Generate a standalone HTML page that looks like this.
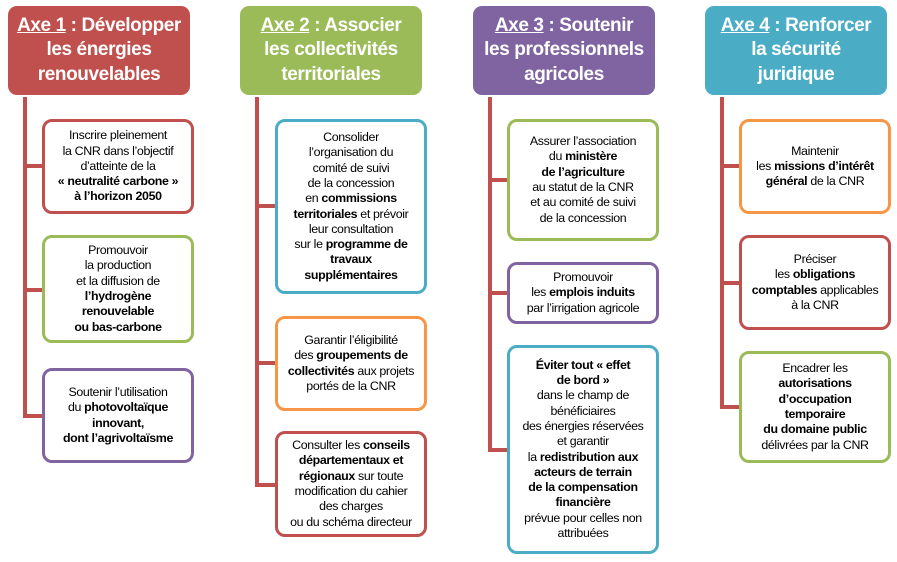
<!DOCTYPE html>
<html><head><meta charset="utf-8"><style>
body{margin:0;width:897px;height:562px;background:#fff;position:relative;overflow:hidden;font-family:"Liberation Sans",sans-serif}
.h{position:absolute;top:6px;width:182px;height:89px;border-radius:9px;color:#fff;font-weight:bold;font-size:19px;line-height:24.5px;text-align:center;display:flex;align-items:center;justify-content:center;letter-spacing:-0.4px}
.h u{text-decoration:underline}
.b{position:absolute;width:146px;border:3px solid;border-radius:10px;background:#fff;font-size:12.4px;line-height:15.3px;color:#000;text-align:center;display:flex;align-items:center;justify-content:center;letter-spacing:-0.35px;white-space:nowrap}
.v{position:absolute;width:4px;background:#c0504d}
.c{position:absolute;height:4px;background:#c0504d}
.R{border-color:#c0504d}.G{border-color:#9bbb59}.P{border-color:#8064a2}.T{border-color:#4bacc6}.O{border-color:#f79646}
</style></head><body>
<div class="h" style="left:8px;background:#c0504d"><div><u>Axe 1</u> : Développer<br>les énergies<br>renouvelables</div></div>
<div class="h" style="left:240px;background:#9bbb59"><div><u>Axe 2</u> : Associer<br>les collectivités<br>territoriales</div></div>
<div class="h" style="left:473px;background:#8064a2"><div><u>Axe 3</u> : Soutenir<br>les professionnels<br>agricoles</div></div>
<div class="h" style="left:705px;background:#4bacc6"><div><u>Axe 4</u> : Renforcer<br>la sécurité<br>juridique</div></div>

<div class="v" style="left:23px;top:97px;height:321px"></div>
<div class="c" style="left:23px;top:164px;width:22px"></div>
<div class="c" style="left:23px;top:288px;width:22px"></div>
<div class="c" style="left:23px;top:414px;width:22px"></div>

<div class="v" style="left:255px;top:97px;height:390px"></div>
<div class="c" style="left:255px;top:204px;width:22px"></div>
<div class="c" style="left:255px;top:361px;width:22px"></div>
<div class="c" style="left:255px;top:483px;width:22px"></div>

<div class="v" style="left:488px;top:97px;height:355px"></div>
<div class="c" style="left:488px;top:178px;width:22px"></div>
<div class="c" style="left:488px;top:291px;width:22px"></div>
<div class="c" style="left:488px;top:448px;width:22px"></div>

<div class="v" style="left:720px;top:97px;height:312px"></div>
<div class="c" style="left:720px;top:164px;width:22px"></div>
<div class="c" style="left:720px;top:281px;width:22px"></div>
<div class="c" style="left:720px;top:405px;width:22px"></div>

<div class="b R" style="left:42px;top:119px;height:89px"><div>Inscrire pleinement<br>la CNR dans l’objectif<br>d’atteinte de la<br><b>« neutralité carbone »<br>à l’horizon 2050</b></div></div>
<div class="b G" style="left:42px;top:235px;height:102px"><div>Promouvoir<br>la production<br>et la diffusion de<br><b>l’hydrogène<br>renouvelable<br>ou bas-carbone</b></div></div>
<div class="b P" style="left:42px;top:368px;height:89px"><div>Soutenir l’utilisation<br>du <b>photovoltaïque<br>innovant,<br>dont l’agrivoltaïsme</b></div></div>

<div class="b T" style="left:275px;top:119px;height:169px"><div>Consolider<br>l’organisation du<br>comité de suivi<br>de la concession<br>en <b>commissions<br>territoriales</b> et prévoir<br>leur consultation<br>sur le <b>programme de<br>travaux<br>supplémentaires</b></div></div>
<div class="b O" style="left:275px;top:316px;height:89px"><div>Garantir l’éligibilité<br>des <b>groupements de<br>collectivités</b> aux projets<br>portés de la CNR</div></div>
<div class="b R" style="left:275px;top:431px;height:100px"><div>Consulter les <b>conseils<br>départementaux et<br>régionaux</b> sur toute<br>modification du cahier<br>des charges<br>ou du schéma directeur</div></div>

<div class="b G" style="left:507px;top:119px;height:116px"><div>Assurer l’association<br>du <b>ministère<br>de l’agriculture</b><br>au statut de la CNR<br>et au comité de suivi<br>de la concession</div></div>
<div class="b P" style="left:507px;top:262px;height:56px"><div>Promouvoir<br>les <b>emplois induits</b><br>par l’irrigation agricole</div></div>
<div class="b T" style="left:507px;top:345px;height:203px"><div><b>Éviter tout « effet<br>de bord »</b><br>dans le champ de<br>bénéficiaires<br>des énergies réservées<br>et garantir<br>la <b>redistribution aux<br>acteurs de terrain<br>de la compensation<br>financière</b><br>prévue pour celles non<br>attribuées</div></div>

<div class="b O" style="left:739px;top:119px;height:89px"><div>Maintenir<br>les <b>missions d’intérêt<br>général</b> de la CNR</div></div>
<div class="b R" style="left:739px;top:235px;height:89px"><div>Préciser<br>les <b>obligations<br>comptables</b> applicables<br>à la CNR</div></div>
<div class="b G" style="left:739px;top:351px;height:106px"><div>Encadrer les<br><b>autorisations<br>d’occupation<br>temporaire<br>du domaine public</b><br>délivrées par la CNR</div></div>
</body></html>
